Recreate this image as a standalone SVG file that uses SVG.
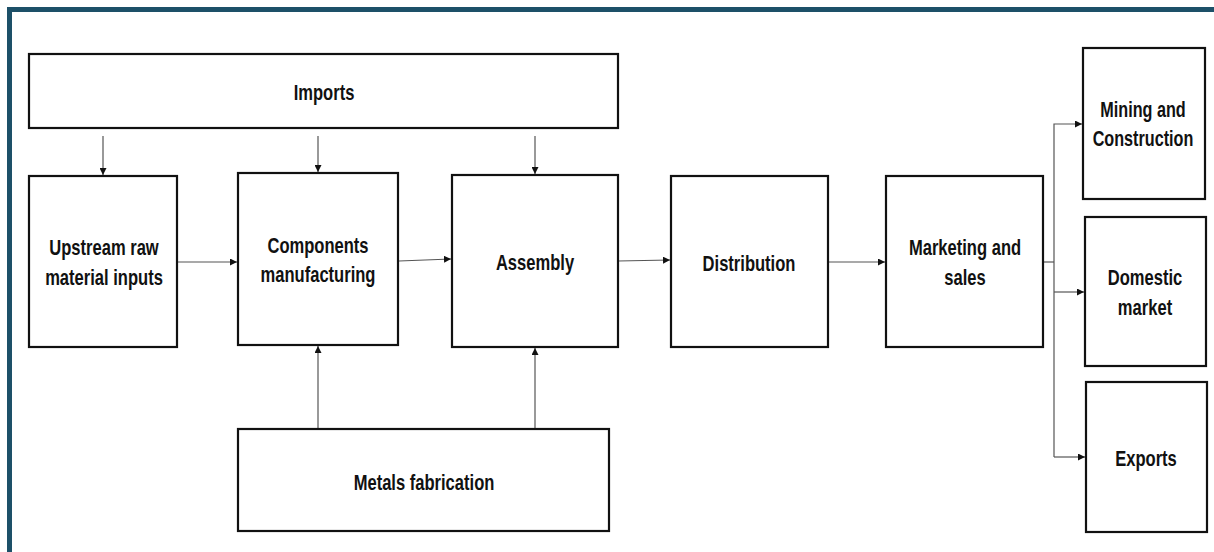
<svg xmlns="http://www.w3.org/2000/svg" width="1214" height="552" viewBox="0 0 1214 552">
<style>
.box{fill:#fff;stroke:#111;stroke-width:2.2}
.lbl{font-family:"Liberation Sans",Arial,sans-serif;font-weight:bold;font-size:18px;fill:#111;text-anchor:middle}
.con{fill:none;stroke:#555;stroke-width:1.2}
</style>
<defs>
<marker id="ah" viewBox="0 0 8 8" refX="8" refY="4" markerWidth="7" markerHeight="7" markerUnits="userSpaceOnUse" orient="auto">
<path d="M0,0 L8,4 L0,8 z" fill="#111"/>
</marker>
</defs>
<rect x="0" y="0" width="1214" height="552" fill="#fff"/>
<path d="M9.5,552 V9.5 H1214" fill="none" stroke="#1d5068" stroke-width="5"/>
<g id="connectors">
<line class="con" x1="103" y1="136" x2="103" y2="175" marker-end="url(#ah)"/>
<line class="con" x1="318" y1="136" x2="318" y2="172" marker-end="url(#ah)"/>
<line class="con" x1="535" y1="136" x2="535" y2="174" marker-end="url(#ah)"/>
<line class="con" x1="178" y1="262" x2="237" y2="262" marker-end="url(#ah)"/>
<line class="con" x1="399" y1="261" x2="451" y2="259" marker-end="url(#ah)"/>
<line class="con" x1="618" y1="261" x2="670" y2="260" marker-end="url(#ah)"/>
<line class="con" x1="828" y1="262" x2="885" y2="262" marker-end="url(#ah)"/>
<line class="con" x1="318" y1="429" x2="318" y2="346" marker-end="url(#ah)"/>
<line class="con" x1="535" y1="429" x2="535" y2="348" marker-end="url(#ah)"/>
<path class="con" d="M1043,262 H1054"/>
<path class="con" d="M1054,457 V124 H1082" marker-end="url(#ah)"/>
<line class="con" x1="1054" y1="292" x2="1084" y2="292" marker-end="url(#ah)"/>
<line class="con" x1="1054" y1="457" x2="1085" y2="457" marker-end="url(#ah)"/>
</g>
<g id="imports"><rect class="box" x="29" y="54" width="589" height="74"/><text class="lbl" transform="translate(324,100) scale(0.92,1.2)">Imports</text></g>
<g id="upstream"><rect class="box" x="29" y="176" width="148" height="171"/><text class="lbl" transform="translate(104,255) scale(0.92,1.2)">Upstream raw</text><text class="lbl" transform="translate(104,285) scale(0.92,1.2)">material inputs</text></g>
<g id="components"><rect class="box" x="238" y="173" width="160" height="172"/><text class="lbl" transform="translate(318,253) scale(0.92,1.2)">Components</text><text class="lbl" transform="translate(318,282) scale(0.92,1.2)">manufacturing</text></g>
<g id="assembly"><rect class="box" x="452" y="175" width="166" height="172"/><text class="lbl" transform="translate(535,270) scale(0.92,1.2)">Assembly</text></g>
<g id="distribution"><rect class="box" x="671" y="176" width="157" height="171"/><text class="lbl" transform="translate(749,271) scale(0.92,1.2)">Distribution</text></g>
<g id="marketing"><rect class="box" x="886" y="176" width="157" height="171"/><text class="lbl" transform="translate(965,255) scale(0.92,1.2)">Marketing and</text><text class="lbl" transform="translate(965,285) scale(0.92,1.2)">sales</text></g>
<g id="mining"><rect class="box" x="1083" y="48" width="122" height="151"/><text class="lbl" transform="translate(1143,117) scale(0.9,1.2)">Mining and</text><text class="lbl" transform="translate(1143,146) scale(0.9,1.2)">Construction</text></g>
<g id="domestic"><rect class="box" x="1085" y="217" width="121" height="149"/><text class="lbl" transform="translate(1145,285) scale(0.92,1.2)">Domestic</text><text class="lbl" transform="translate(1145,315) scale(0.92,1.2)">market</text></g>
<g id="exports"><rect class="box" x="1086" y="382" width="121" height="150"/><text class="lbl" transform="translate(1146,466) scale(0.92,1.2)">Exports</text></g>
<g id="metals"><rect class="box" x="238" y="429" width="371" height="102"/><text class="lbl" transform="translate(424,490) scale(0.92,1.2)">Metals fabrication</text></g>
</svg>
